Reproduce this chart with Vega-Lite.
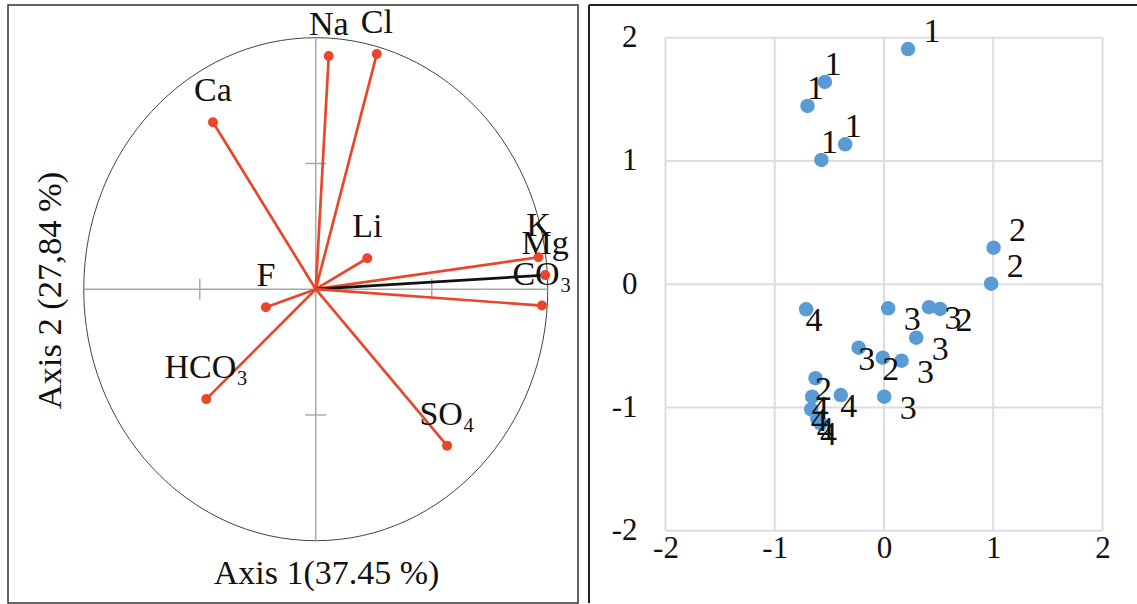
{
  "$schema": "https://vega.github.io/schema/vega-lite/v6.json",
  "padding": {"left": 7, "top": 4, "right": 0, "bottom": 0},
  "background": "#ffffff",
  "spacing": 9,
  "config": {
    "font": "Liberation Serif",
    "view": {"stroke": null},
    "axis": {"minExtent": 0, "maxExtent": 400, "grid": false, "ticks": false, "domain": false}
  },
  "datasets": {
    "vectors": [
      {"name": "Na", "x": 0.056, "y": 0.927},
      {"name": "Cl", "x": 0.263, "y": 0.935},
      {"name": "Ca", "x": -0.443, "y": 0.664},
      {"name": "Li", "x": 0.222, "y": 0.123},
      {"name": "K", "x": 0.960, "y": 0.127},
      {"name": "Mg", "x": 0.989, "y": 0.056},
      {"name": "CO₃", "x": 0.975, "y": -0.065},
      {"name": "F", "x": -0.215, "y": -0.072},
      {"name": "HCO₃", "x": -0.472, "y": -0.437},
      {"name": "SO₄", "x": 0.566, "y": -0.622}
    ],
    "samples": [
      {"group": "1", "x": 0.220, "y": 1.908},
      {"group": "1", "x": -0.541, "y": 1.641},
      {"group": "1", "x": -0.700, "y": 1.446},
      {"group": "1", "x": -0.355, "y": 1.135},
      {"group": "1", "x": -0.573, "y": 1.008},
      {"group": "2", "x": 1.003, "y": 0.296},
      {"group": "2", "x": 0.981, "y": 0.004},
      {"group": "2", "x": 0.513, "y": -0.201},
      {"group": "2", "x": -0.011, "y": -0.596},
      {"group": "2", "x": -0.627, "y": -0.763},
      {"group": "3", "x": 0.038, "y": -0.196},
      {"group": "3", "x": 0.412, "y": -0.187},
      {"group": "3", "x": 0.295, "y": -0.434},
      {"group": "3", "x": -0.232, "y": -0.515},
      {"group": "3", "x": 0.161, "y": -0.621},
      {"group": "3", "x": 0.002, "y": -0.913},
      {"group": "4", "x": -0.713, "y": -0.204},
      {"group": "4", "x": -0.395, "y": -0.899},
      {"group": "4", "x": -0.657, "y": -0.913},
      {"group": "4", "x": -0.666, "y": -1.015},
      {"group": "4", "x": -0.611, "y": -1.088},
      {"group": "4", "x": -0.581, "y": -1.129}
    ],
    "origin": [{"x": 0, "y": 0}],
    "axisSpan": [{"lo": -1, "hi": 1}],
    "axisTicks": [{"t": -0.5}, {"t": 0.5}],
    "gridValues": [{"v": -2}, {"v": -1}, {"v": 0}, {"v": 1}, {"v": 2}]
  },
  "hconcat": [
    {
      "width": 570,
      "height": 598,
      "view": {"stroke": "#333333", "strokeWidth": 1.5},
      "layer": [
        {
          "data": {"name": "origin"},
          "mark": {"type": "point", "shape": "M -0.9225 0 A 0.9225 1 0 1 1 0.9225 0 A 0.9225 1 0 1 1 -0.9225 0 Z", "size": 253009, "filled": false, "stroke": "#444444", "strokeWidth": 1, "opacity": 1},
          "encoding": {
            "x": {"field": "x", "type": "quantitative", "scale": {"domain": [-1.3265, 1.1304], "nice": false, "zero": false},
              "axis": {"orient": "bottom", "domain": false, "ticks": false, "labels": false, "grid": false, "minExtent": 0,
                "title": "Axis 1(37.45 %)", "titleFont": "Liberation Serif", "titleFontSize": 34, "titleFontWeight": "normal", "titleColor": "#111111",
                "titleX": 318, "titleY": -30, "titleAlign": "center", "titleBaseline": "middle"}},
            "y": {"field": "y", "type": "quantitative", "scale": {"domain": [-1.2477, 1.130], "nice": false, "zero": false},
              "axis": {"orient": "left", "domain": false, "ticks": false, "labels": false, "grid": false, "minExtent": 0,
                "title": "Axis 2 (27,84 %)", "titleFont": "Liberation Serif", "titleFontSize": 34.5, "titleFontWeight": "normal", "titleColor": "#111111",
                "titleX": 42, "titleY": 285, "titleAngle": -90, "titleAlign": "center", "titleBaseline": "middle"}}
          }
        },
        {
          "data": {"name": "axisSpan"},
          "mark": {"type": "rule", "color": "#a8a8b0", "strokeWidth": 1.5},
          "encoding": {
            "x": {"field": "lo", "type": "quantitative"},
            "x2": {"field": "hi"},
            "y": {"datum": 0, "type": "quantitative"}
          }
        },
        {
          "data": {"name": "axisSpan"},
          "mark": {"type": "rule", "color": "#a8a8b0", "strokeWidth": 1.5},
          "encoding": {
            "y": {"field": "lo", "type": "quantitative"},
            "y2": {"field": "hi"},
            "x": {"datum": 0, "type": "quantitative"}
          }
        },
        {
          "data": {"name": "axisTicks"},
          "mark": {"type": "tick", "orient": "vertical", "size": 21, "thickness": 1.5, "color": "#a8a8b0", "opacity": 1},
          "encoding": {
            "x": {"field": "t", "type": "quantitative"},
            "y": {"datum": 0, "type": "quantitative"}
          }
        },
        {
          "data": {"name": "axisTicks"},
          "mark": {"type": "tick", "orient": "horizontal", "size": 21, "thickness": 1.5, "color": "#a8a8b0", "opacity": 1},
          "encoding": {
            "y": {"field": "t", "type": "quantitative"},
            "x": {"datum": 0, "type": "quantitative"}
          }
        },
        {
          "data": {"name": "vectors"},
          "mark": {"type": "rule", "strokeWidth": 2.7},
          "encoding": {
            "x": {"field": "x", "type": "quantitative"},
            "y": {"field": "y", "type": "quantitative"},
            "x2": {"datum": 0},
            "y2": {"datum": 0},
            "color": {"condition": {"test": "datum.name === 'Mg'", "value": "#111111"}, "value": "#e8472c"}
          }
        },
        {
          "data": {"name": "vectors"},
          "mark": {"type": "point", "filled": true, "size": 100, "color": "#e8472c", "opacity": 1},
          "encoding": {
            "x": {"field": "x", "type": "quantitative"},
            "y": {"field": "y", "type": "quantitative"}
          }
        },
        {
          "data": {"name": "vectors"},
          "mark": {"type": "text", "font": "Liberation Serif", "fontSize": 34, "color": "#111111", "align": "center", "baseline": "middle", "dy": -31},
          "encoding": {
            "x": {"field": "x", "type": "quantitative"},
            "y": {"field": "y", "type": "quantitative"},
            "text": {"field": "name"}
          }
        }
      ]
    },
    {
      "width": 548,
      "height": 598,
      "layer": [
        {
          "data": {"name": "gridValues"},
          "mark": {"type": "rule", "color": "#dcdde3", "strokeWidth": 2},
          "encoding": {
            "x": {"field": "v", "type": "quantitative", "scale": {"domain": [-2.700, 2.3158], "nice": false, "zero": false},
              "axis": {"orient": "bottom", "values": [-2, -1, 0, 1, 2], "domain": false, "ticks": false, "tickSize": 0, "grid": false, "minExtent": 0,
                "labelPadding": -55, "labelBaseline": "middle", "labelFont": "Liberation Serif", "labelFontSize": 31, "labelColor": "#111111",
                "labelExpr": "'' + datum.value", "labelFlush": false, "labelOverlap": false, "title": null}},
            "y": {"datum": -2, "type": "quantitative", "scale": {"domain": [-2.5866, 2.2653], "nice": false, "zero": false},
              "axis": {"orient": "left", "values": [-2, -1, 0, 1, 2], "domain": false, "ticks": false, "tickSize": 0, "grid": false, "minExtent": 0,
                "labelPadding": -48, "labelAlign": "right", "labelBaseline": "middle", "labelFont": "Liberation Serif", "labelFontSize": 31, "labelColor": "#111111",
                "labelExpr": "'' + datum.value", "labelFlush": false, "labelOverlap": false, "title": null}},
            "y2": {"datum": 2}
          }
        },
        {
          "data": {"name": "gridValues"},
          "mark": {"type": "rule", "color": "#dcdde3", "strokeWidth": 2},
          "encoding": {
            "y": {"field": "v", "type": "quantitative"},
            "x": {"datum": -2, "type": "quantitative"},
            "x2": {"datum": 2}
          }
        },
        {
          "data": {"name": "origin"},
          "mark": {"type": "rule", "color": "#222222", "strokeWidth": 2},
          "encoding": {
            "x": {"datum": -2.700, "type": "quantitative"},
            "x2": {"datum": 2.3158},
            "y": {"datum": 2.2653, "type": "quantitative"}
          }
        },
        {
          "data": {"name": "origin"},
          "mark": {"type": "rule", "color": "#222222", "strokeWidth": 2},
          "encoding": {
            "y": {"datum": -2.5866, "type": "quantitative"},
            "y2": {"datum": 2.2653},
            "x": {"datum": -2.700, "type": "quantitative"}
          }
        },
        {
          "data": {"name": "samples"},
          "mark": {"type": "point", "filled": true, "size": 210, "color": "#5b9bd5", "opacity": 1},
          "encoding": {
            "x": {"field": "x", "type": "quantitative"},
            "y": {"field": "y", "type": "quantitative"}
          }
        },
        {
          "data": {"name": "samples"},
          "transform": [{"filter": "datum.x >= 0 && datum.y >= 0"}],
          "mark": {"type": "text", "font": "Liberation Serif", "fontSize": 34, "color": "#111111", "align": "center", "baseline": "middle", "dx": 24, "dy": -17},
          "encoding": {"x": {"field": "x", "type": "quantitative"}, "y": {"field": "y", "type": "quantitative"}, "text": {"field": "group"}}
        },
        {
          "data": {"name": "samples"},
          "transform": [{"filter": "datum.x < 0 && datum.y >= 0"}],
          "mark": {"type": "text", "font": "Liberation Serif", "fontSize": 34, "color": "#111111", "align": "center", "baseline": "middle", "dx": 8, "dy": -17},
          "encoding": {"x": {"field": "x", "type": "quantitative"}, "y": {"field": "y", "type": "quantitative"}, "text": {"field": "group"}}
        },
        {
          "data": {"name": "samples"},
          "transform": [{"filter": "datum.x >= 0 && datum.y < 0"}],
          "mark": {"type": "text", "font": "Liberation Serif", "fontSize": 34, "color": "#111111", "align": "center", "baseline": "middle", "dx": 24, "dy": 12},
          "encoding": {"x": {"field": "x", "type": "quantitative"}, "y": {"field": "y", "type": "quantitative"}, "text": {"field": "group"}}
        },
        {
          "data": {"name": "samples"},
          "transform": [{"filter": "datum.x < 0 && datum.y < 0"}],
          "mark": {"type": "text", "font": "Liberation Serif", "fontSize": 34, "color": "#111111", "align": "center", "baseline": "middle", "dx": 8, "dy": 12},
          "encoding": {"x": {"field": "x", "type": "quantitative"}, "y": {"field": "y", "type": "quantitative"}, "text": {"field": "group"}}
        }
      ]
    }
  ]
}
